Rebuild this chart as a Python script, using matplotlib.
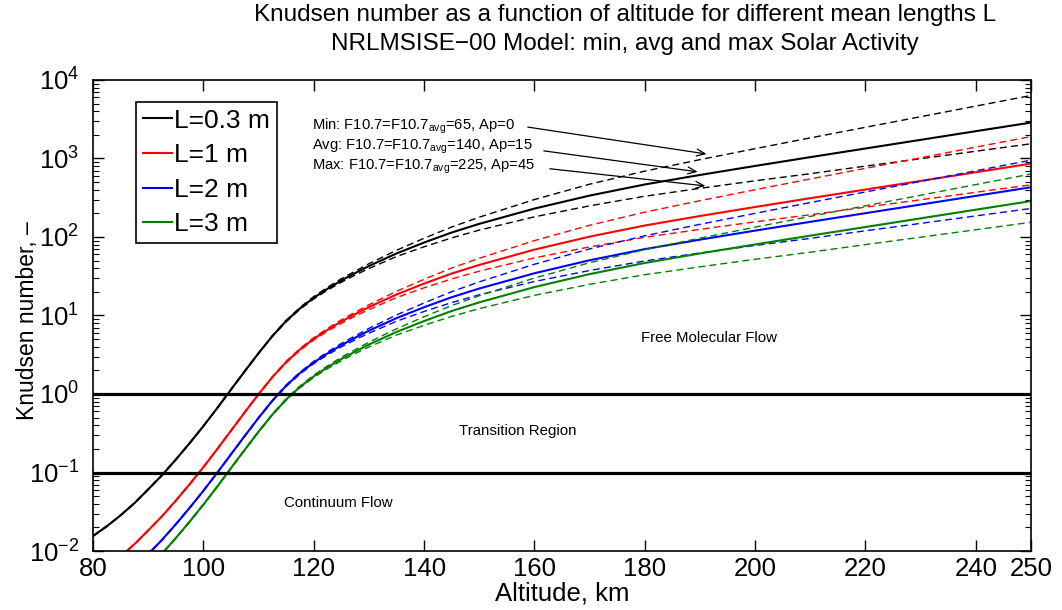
import matplotlib
matplotlib.use('Agg')
import matplotlib.pyplot as plt
import numpy as np

plt.rcParams['font.family'] = ['Liberation Sans', 'DejaVu Sans']
plt.rcParams['mathtext.fontset'] = 'custom'
plt.rcParams['mathtext.rm'] = 'Liberation Sans'
plt.rcParams['mathtext.it'] = 'Liberation Sans:italic'

# altitude, km
alt = np.array([80, 82.5, 85, 87.5, 90, 92.5, 95, 97.5, 100, 102.5, 105, 107.5, 110,
                112.5, 115, 117.5, 120, 122.5, 125, 127.5, 130, 135, 140, 145, 150,
                160, 170, 180, 190, 200, 210, 220, 230, 240, 250])

# mean free path, m (NRLMSISE-00)
lam_avg = np.array([0.00465, 0.00620, 0.00855, 0.0122, 0.0183, 0.0277, 0.0438, 0.0708,
                    0.117, 0.198, 0.341, 0.585, 0.993, 1.64, 2.55, 3.69, 5.04, 6.57,
                    8.37, 10.4, 12.8, 18.5, 25.5, 34.2, 44.1, 69.0, 101, 140, 185, 241,
                    312, 402, 518, 668, 860])
lam_min = np.array([0.00470, 0.00627, 0.00865, 0.0123, 0.0185, 0.0280, 0.0443, 0.0716,
                    0.118, 0.200, 0.345, 0.592, 1.005, 1.66, 2.61, 3.79, 5.22, 6.85,
                    8.81, 11.0, 13.7, 20.3, 28.9, 40.2, 53.6, 89.9, 141, 207, 290, 400,
                    549, 749, 1021, 1395, 1903])
lam_max = np.array([0.00460, 0.00613, 0.00845, 0.0121, 0.0181, 0.0274, 0.0433, 0.0700,
                    0.116, 0.196, 0.337, 0.578, 0.982, 1.62, 2.49, 3.59, 4.87, 6.30,
                    7.96, 9.80, 11.9, 16.9, 22.5, 29.2, 36.7, 54.2, 74.8, 99.1, 125, 156,
                    192, 240, 298, 371, 462])

lengths = [0.3, 1, 2, 3]
colors = ['k', 'r', 'b', (0, 0.5, 0)]
labels = ['L=0.3 m', 'L=1 m', 'L=2 m', 'L=3 m']

fig = plt.figure(figsize=(10.62, 6.10), dpi=100)
ax = fig.add_axes([0.0876, 0.0967, 0.8832, 0.7722])

for L, c, lab in zip(lengths, colors, labels):
    ax.semilogy(alt, lam_min / L, color=c, lw=1.0, dashes=(5, 3))
    ax.semilogy(alt, lam_max / L, color=c, lw=1.0, dashes=(5, 3))
    ax.semilogy(alt, lam_avg / L, color=c, lw=1.5, label=lab)

ax.axhline(1, color='k', lw=2.3)
ax.axhline(0.1, color='k', lw=2.3)

ax.text(191.6, 5.1, 'Free Molecular Flow', ha='center', va='center', fontsize=10.8)
ax.text(157, 0.34, 'Transition Region', ha='center', va='center', fontsize=10.8)
ax.text(124.5, 0.041, 'Continuum Flow', ha='center', va='center', fontsize=10.8)

ann = [(r'Min: F10.7=F10.7$_{\mathrm{avg}}$=65, Ap=0', 2550, (158.8, 2510), (191.2, 1140)),
       (r'Avg: F10.7=F10.7$_{\mathrm{avg}}$=140, Ap=15', 1390, (161.7, 1250), (189.6, 676)),
       (r'Max: F10.7=F10.7$_{\mathrm{avg}}$=225, Ap=45', 780, (162.8, 740), (191.0, 447))]
for txt, ty, p0, p1 in ann:
    ax.text(119.6, ty, txt, ha='left', va='center', fontsize=10.6)
    ax.annotate('', xy=p1, xytext=p0,
                arrowprops=dict(arrowstyle='->,head_length=0.6,head_width=0.25',
                                color='k', lw=0.9, shrinkA=0, shrinkB=0))

ax.set_xlim(80, 250)
ax.set_ylim(1e-2, 1e4)
ax.set_xticks([80, 100, 120, 140, 160, 180, 200, 220, 240, 250])
ax.tick_params(which='both', direction='in', top=True, right=True, labelsize=18.5)
ax.tick_params(which='major', length=8, width=1)
ax.tick_params(which='minor', length=4, width=0.8)
ax.tick_params(axis='x', which='major', pad=4)
ax.tick_params(axis='y', which='major', pad=10)
ax.tick_params(axis='x', which='minor', top=False, bottom=False)
for s in ax.spines.values():
    s.set_linewidth(1.2)

ax.set_xlabel('Altitude, km', fontsize=18.5, labelpad=1)
ax.set_ylabel('Knudsen number, \u2013', fontsize=16.5)
ax.yaxis.set_label_coords(-0.058, 0.49)
fig.text(0.5885, 0.993, 'Knudsen number as a function of altitude for different mean lengths L\n'
         'NRLMSISE\u221200 Model: min, avg and max Solar Activity',
         ha='center', va='top', fontsize=17.5, linespacing=1.42)

leg = ax.legend(loc='upper left', bbox_to_anchor=(0.0458, 0.953), borderaxespad=0,
                fontsize=19, handlelength=1.1, handletextpad=0.1, borderpad=0.25,
                labelspacing=0.4, fancybox=False, edgecolor='k', framealpha=1)
leg.get_frame().set_linewidth(1.2)

fig.savefig('out.png', dpi=100)
